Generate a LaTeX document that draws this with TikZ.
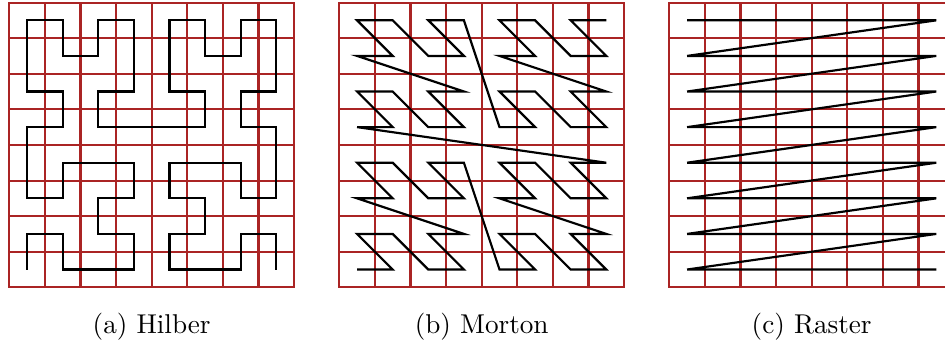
\documentclass[tikz,border=0pt]{standalone}
\definecolor{gridred}{RGB}{170,36,36}
\tikzset{
  gridline/.style={gridred, line width=0.75pt, step=1},
  curve/.style={black, line width=0.8pt, line join=miter},
  caption/.style={anchor=base, font=\normalsize}
}
\begin{document}
\begin{tikzpicture}[x=13.09pt, y=13.09pt, line cap=butt]
				\def\gap{9.27}
				\def\capy{-1.311}
				\useasboundingbox (-0.261,-1.508) rectangle (26.284,8.071);
				\clip (-0.261,-1.508) rectangle (26.284,8.071);
				% Hilbert
				\begin{scope}
				\draw[gridline] (0,0) grid (8,8) (0,0) rectangle (8,8);
				\draw[curve, shift={(0.5,0.5)}] (0,0) -- (0,1) -- (1,1) -- (1,0) -- (2,0) -- (3,0) -- (3,1) -- (2,1)
				-- (2,2) -- (3,2) -- (3,3) -- (2,3) -- (1,3) -- (1,2) -- (0,2) -- (0,3)
				-- (0,4) -- (1,4) -- (1,5) -- (0,5) -- (0,6) -- (0,7) -- (1,7) -- (1,6)
				-- (2,6) -- (2,7) -- (3,7) -- (3,6) -- (3,5) -- (2,5) -- (2,4) -- (3,4)
				-- (4,4) -- (5,4) -- (5,5) -- (4,5) -- (4,6) -- (4,7) -- (5,7) -- (5,6)
				-- (6,6) -- (6,7) -- (7,7) -- (7,6) -- (7,5) -- (6,5) -- (6,4) -- (7,4)
				-- (7,3) -- (7,2) -- (6,2) -- (6,3) -- (5,3) -- (4,3) -- (4,2) -- (5,2)
				-- (5,1) -- (4,1) -- (4,0) -- (5,0) -- (6,0) -- (6,1) -- (7,1) -- (7,0);
				\node[caption] (capa) at (4,\capy) {(a) Hilber};
				\end{scope}
				% Morton
				\begin{scope}[shift={(\gap,0)}]
				\draw[gridline] (0,0) grid (8,8) (0,0) rectangle (8,8);
				\draw[curve] (0.5,0.5) \foreach \i in {1,...,63} {
					-- ({mod(\i,2)+2*mod(floor(\i/4),2)+4*mod(floor(\i/16),2)+0.5},
					    {mod(floor(\i/2),2)+2*mod(floor(\i/8),2)+4*floor(\i/32)+0.5})
				};
				\node[caption] (capb) at (4,\capy) {(b) Morton};
				\end{scope}
				% Raster
				\begin{scope}[shift={(2*\gap,0)}]
				\draw[gridline] (0,0) grid (8,8) (0,0) rectangle (8,8);
				\draw[curve] (0.5,7.5) -- (7.5,7.5) \foreach \r in {6,...,0} {
					-- (0.5,\r+0.5) -- (7.5,\r+0.5)
				};
				\node[caption] (capc) at (4,\capy) {(c) Raster};
				\end{scope}
\end{tikzpicture}
\end{document}
